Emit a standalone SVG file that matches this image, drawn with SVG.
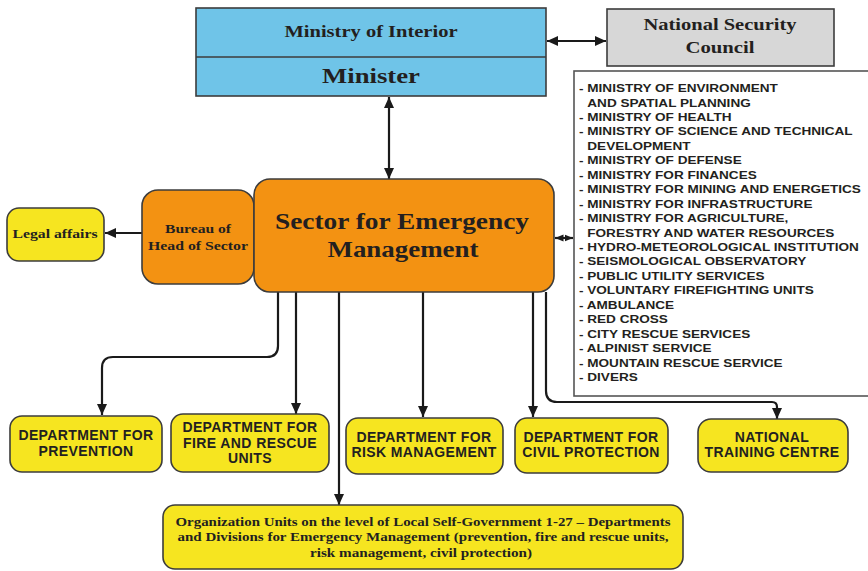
<svg xmlns="http://www.w3.org/2000/svg" width="868" height="571" viewBox="0 0 868 571">
<style>
.box{stroke:#3c3c3c;stroke-width:1.6}
.blue{fill:#6fc4e8}
.grey{fill:#d7d7d7}
.orange{fill:#f39212}
.yellow{fill:#f6e520}
.serif{font-family:"Liberation Serif","Times New Roman",serif;font-weight:bold;fill:#231f20;text-anchor:middle}
.sans{font-family:"Liberation Sans",Arial,sans-serif;font-weight:bold;fill:#231f20}
.dept{font-size:14px;letter-spacing:0.4px;text-anchor:middle}
.list{font-size:11.6px}
.conn{fill:none;stroke:#1a1a1a;stroke-width:2.2}
</style>
<defs>
<marker id="ah" markerUnits="userSpaceOnUse" markerWidth="12" markerHeight="12" viewBox="0 0 12 12" refX="11" refY="6" orient="auto-start-reverse">
<path d="M0,1 L11,6 L0,11 z" fill="#1a1a1a"/>
</marker>
<marker id="ahs" markerUnits="userSpaceOnUse" markerWidth="9" markerHeight="9" viewBox="0 0 9 9" refX="8.5" refY="4.5" orient="auto-start-reverse">
<path d="M0,1 L8.5,4.5 L0,8 z" fill="#1a1a1a"/>
</marker>
</defs>

<g id="connectors">
<path class="conn" d="M547,41 H606" marker-start="url(#ah)" marker-end="url(#ah)"/>
<path class="conn" d="M389,97 V179" marker-start="url(#ah)" marker-end="url(#ah)"/>
<path class="conn" d="M555,238 H573" stroke-width="1.8" marker-start="url(#ahs)" marker-end="url(#ahs)"/>
<path class="conn" d="M142,233 H105" marker-end="url(#ah)"/>
<path class="conn" d="M278,292 V346 Q278,357 267,357 H113 Q102,357 102,368 V415" marker-end="url(#ah)"/>
<path class="conn" d="M296,292 V414" marker-end="url(#ah)"/>
<path class="conn" d="M339,292 V505" marker-end="url(#ah)"/>
<path class="conn" d="M423,292 V417" marker-end="url(#ah)"/>
<path class="conn" d="M533,292 V417" marker-end="url(#ah)"/>
<path class="conn" d="M546,292 V391 Q546,402 557,402 H772 Q777,402 777,407 V419" marker-end="url(#ah)"/>
</g>

<g id="ministry">
<rect class="box blue" x="196" y="8" width="350" height="88"/>
<line x1="196" y1="57" x2="546" y2="57" stroke="#3c3c3c" stroke-width="1.6"/>
<text class="serif" x="371" y="37" font-size="17" textLength="173" lengthAdjust="spacingAndGlyphs">Ministry of Interior</text>
<text class="serif" x="371" y="83" font-size="21" textLength="98" lengthAdjust="spacingAndGlyphs">Minister</text>
</g>

<g id="nsc">
<rect class="box grey" x="607" y="9" width="227" height="57"/>
<text class="serif" x="720" y="30" font-size="16" textLength="153" lengthAdjust="spacingAndGlyphs">National Security</text>
<text class="serif" x="720" y="53" font-size="16" textLength="69" lengthAdjust="spacingAndGlyphs">Council</text>
</g>

<g id="list">
<rect x="574" y="71" width="310" height="325" fill="#ffffff" stroke="#555555" stroke-width="1.6"/>
<g class="sans list" transform="translate(579,0) scale(1.17,1)">
<text x="0" y="92.2">- MINISTRY OF ENVIRONMENT</text>
<text x="7.1" y="106.6">AND SPATIAL PLANNING</text>
<text x="0" y="121.1">- MINISTRY OF HEALTH</text>
<text x="0" y="135.5">- MINISTRY OF SCIENCE AND TECHNICAL</text>
<text x="7.1" y="150">DEVELOPMENT</text>
<text x="0" y="164.4">- MINISTRY OF DEFENSE</text>
<text x="0" y="178.8">- MINISTRY FOR FINANCES</text>
<text x="0" y="193.3">- MINISTRY FOR MINING AND ENERGETICS</text>
<text x="0" y="207.7">- MINISTRY FOR INFRASTRUCTURE</text>
<text x="0" y="222.2">- MINISTRY FOR AGRICULTURE,</text>
<text x="7.1" y="236.6">FORESTRY AND WATER RESOURCES</text>
<text x="0" y="251">- HYDRO-METEOROLOGICAL INSTITUTION</text>
<text x="0" y="265.5">- SEISMOLOGICAL OBSERVATORY</text>
<text x="0" y="279.9">- PUBLIC UTILITY SERVICES</text>
<text x="0" y="294.4">- VOLUNTARY FIREFIGHTING UNITS</text>
<text x="0" y="308.8">- AMBULANCE</text>
<text x="0" y="323.2">- RED CROSS</text>
<text x="0" y="337.7">- CITY RESCUE SERVICES</text>
<text x="0" y="352.1">- ALPINIST SERVICE</text>
<text x="0" y="366.6">- MOUNTAIN RESCUE SERVICE</text>
<text x="0" y="381">- DIVERS</text>
</g>
</g>

<g id="legal">
<rect class="box yellow" x="7" y="208" width="97" height="53" rx="12"/>
<text class="serif" x="55" y="238" font-size="13" textLength="85" lengthAdjust="spacingAndGlyphs">Legal affairs</text>
</g>

<g id="bureau">
<rect class="box orange" x="142" y="190" width="112" height="94" rx="16"/>
<text class="serif" x="198" y="233" font-size="13" textLength="66" lengthAdjust="spacingAndGlyphs">Bureau of</text>
<text class="serif" x="198" y="250" font-size="13" textLength="100" lengthAdjust="spacingAndGlyphs">Head of Sector</text>
</g>

<g id="sector">
<rect class="box orange" x="254" y="179" width="300" height="113" rx="16"/>
<text class="serif" x="402" y="229" font-size="24" textLength="254" lengthAdjust="spacingAndGlyphs">Sector for Emergency</text>
<text class="serif" x="403" y="257" font-size="24" textLength="151" lengthAdjust="spacingAndGlyphs">Management</text>
</g>

<g id="dept-prevention">
<rect class="box yellow" x="10" y="416" width="152" height="56" rx="12"/>
<text class="sans dept" x="86" y="440">DEPARTMENT FOR</text>
<text class="sans dept" x="86" y="456">PREVENTION</text>
</g>

<g id="dept-fire">
<rect class="box yellow" x="171" y="414" width="158" height="58" rx="12"/>
<text class="sans dept" x="250" y="432">DEPARTMENT FOR</text>
<text class="sans dept" x="250" y="448">FIRE AND RESCUE</text>
<text class="sans dept" x="250" y="463">UNITS</text>
</g>

<g id="dept-risk">
<rect class="box yellow" x="346" y="418" width="157" height="56" rx="12"/>
<text class="sans dept" x="424" y="442">DEPARTMENT FOR</text>
<text class="sans dept" x="424" y="457">RISK MANAGEMENT</text>
</g>

<g id="dept-civil">
<rect class="box yellow" x="515" y="418" width="153" height="55" rx="12"/>
<text class="sans dept" x="591" y="442">DEPARTMENT FOR</text>
<text class="sans dept" x="591" y="457">CIVIL PROTECTION</text>
</g>

<g id="training">
<rect class="box yellow" x="698" y="419" width="150" height="53" rx="13"/>
<text class="sans dept" x="772" y="442">NATIONAL</text>
<text class="sans dept" x="772" y="457">TRAINING CENTRE</text>
</g>

<g id="org-units">
<rect class="box yellow" x="163" y="505" width="520" height="64" rx="12"/>
<text class="serif" x="423" y="526" font-size="12" textLength="495" lengthAdjust="spacingAndGlyphs">Organization Units on the level of Local Self-Government 1-27 – Departments</text>
<text class="serif" x="423" y="541" font-size="12" textLength="491" lengthAdjust="spacingAndGlyphs">and Divisions for Emergency Management (prevention, fire and rescue units,</text>
<text class="serif" x="421" y="557" font-size="12" textLength="222" lengthAdjust="spacingAndGlyphs">risk management, civil protection)</text>
</g>
</svg>
